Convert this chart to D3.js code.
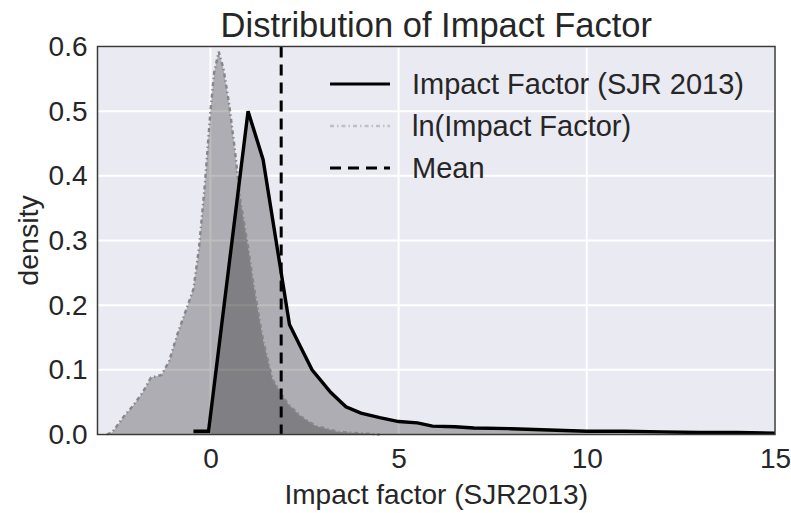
<!DOCTYPE html>
<html><head><meta charset="utf-8">
<script src="https://cdn.jsdelivr.net/npm/d3@7"></script>
<style>body{margin:0;background:#fff;} text{font-family:"Liberation Sans",Arial,sans-serif;}</style>
</head><body><svg id="c" width="791" height="513"></svg>
<script>
// Impact Factor (SJR 2013) density
const ifX = [-0.45, -0.05, 1.0, 1.4, 2.1, 2.4, 2.7, 3.2, 3.6, 4.0, 4.5, 5.0, 5.5, 5.9, 6.5, 7, 8, 9, 10, 11, 12, 13, 14, 15];
const ifY = [0.005, 0.005, 0.5, 0.425, 0.17, 0.135, 0.1, 0.065, 0.043, 0.033, 0.026, 0.02, 0.018, 0.013, 0.012, 0.01, 0.009, 0.007, 0.005, 0.005, 0.004, 0.003, 0.003, 0.002];
// ln(Impact Factor) density
const lnX = [-2.75, -2.6, -2.3, -2.05, -1.8, -1.58, -1.3, -1.1, -0.85, -0.6, -0.45, -0.3, -0.15, 0.0, 0.1, 0.22, 0.35, 0.5, 0.65, 0.8, 1.0, 1.15, 1.4, 1.65, 1.9, 2.05, 2.4, 2.8, 3.4, 4.1, 4.5];
const lnY = [0.0, 0.004, 0.028, 0.045, 0.065, 0.088, 0.092, 0.113, 0.16, 0.2, 0.225, 0.29, 0.385, 0.5, 0.56, 0.592, 0.565, 0.51, 0.44, 0.36, 0.29, 0.23, 0.145, 0.085, 0.062, 0.048, 0.028, 0.013, 0.004, 0.0015, 0.0];
const meanIF = 1.88;
const xTicks = [0, 5, 10, 15];
const yTicks = [0.0, 0.1, 0.2, 0.3, 0.4, 0.5, 0.6];
const legendLabels = ["Impact Factor (SJR 2013)", "ln(Impact Factor)", "Mean"];

const svg = d3.select("#c");
const L = 97.5, R = 775, T = 46.5, B = 434.5;
const x = d3.scaleLinear().domain([-3, 15]).range([L, R]);
const y = d3.scaleLinear().domain([0, 0.6]).range([B, T]);

svg.append("rect").attr("x", L).attr("y", T).attr("width", R - L).attr("height", B - T).attr("fill", "#eaeaf2");

// grid
svg.append("g").selectAll("line").data(yTicks).join("line")
  .attr("x1", L).attr("x2", R).attr("y1", d => y(d)).attr("y2", d => y(d))
  .attr("stroke", "#fff").attr("stroke-width", 2);
svg.append("g").selectAll("line").data(xTicks).join("line")
  .attr("y1", T).attr("y2", B).attr("x1", d => x(d)).attr("x2", d => x(d))
  .attr("stroke", "#fff").attr("stroke-width", 2);

const lnData = lnX.map((v, i) => [v, lnY[i]]);
const ifData = ifX.map((v, i) => [v, ifY[i]]);
const area = d3.area().x(d => x(d[0])).y0(y(0)).y1(d => y(d[1]));
const line = d3.line().x(d => x(d[0])).y(d => y(d[1]));

svg.append("path").attr("d", area(lnData)).attr("fill", "#000").attr("fill-opacity", 0.26);
svg.append("path").attr("d", area(ifData)).attr("fill", "#000").attr("fill-opacity", 0.26);
svg.append("path").attr("d", line(lnData)).attr("fill", "none").attr("stroke", "#85858a")
  .attr("stroke-width", 2.4).attr("stroke-dasharray", "4,3,1.5,3");
svg.append("path").attr("d", line(ifData)).attr("fill", "none").attr("stroke", "#000")
  .attr("stroke-width", 3.4).attr("stroke-linejoin", "miter");
svg.append("line").attr("x1", x(meanIF)).attr("x2", x(meanIF)).attr("y1", T).attr("y2", B)
  .attr("stroke", "#000").attr("stroke-width", 3).attr("stroke-dasharray", "11,7");

// frame
svg.append("rect").attr("x", L).attr("y", T).attr("width", R - L).attr("height", B - T)
  .attr("fill", "none").attr("stroke", "#3a3a3a").attr("stroke-width", 1.5);

// axes
const xAxis = d3.axisBottom(x).tickValues(xTicks).tickSize(0).tickPadding(14).tickFormat(d3.format("d"));
const gx = svg.append("g").attr("transform", `translate(0,${B})`).call(xAxis);
gx.select(".domain").remove();
gx.selectAll("text").attr("font-size", 28).attr("fill", "#262626").attr("font-family", "Liberation Sans, Arial, sans-serif");
const yAxis = d3.axisLeft(y).tickValues(yTicks).tickSize(0).tickPadding(10).tickFormat(d3.format(".1f"));
const gy = svg.append("g").attr("transform", `translate(${L},0)`).call(yAxis);
gy.select(".domain").remove();
gy.selectAll("text").attr("font-size", 28).attr("fill", "#262626").attr("font-family", "Liberation Sans, Arial, sans-serif");

svg.append("text").attr("x", (L + R) / 2).attr("y", 37).attr("text-anchor", "middle")
  .attr("font-size", 34.5).attr("fill", "#262626").text("Distribution of Impact Factor");
svg.append("text").attr("x", (L + R) / 2).attr("y", 504).attr("text-anchor", "middle")
  .attr("font-size", 28).attr("fill", "#262626").text("Impact factor (SJR2013)");
svg.append("text").attr("transform", `translate(38,${(T + B) / 2}) rotate(-90)`).attr("text-anchor", "middle")
  .attr("font-size", 28.5).attr("fill", "#262626").text("density");

// legend
const lg = svg.append("g");
const rows = [
  {stroke: "#000", w: 3, dash: null},
  {stroke: "#c0c0c0", w: 2.4, dash: "4,3,1.5,3"},
  {stroke: "#000", w: 3, dash: "11,7"}
];
rows.forEach((r, i) => {
  const yy = 84 + i * 42;
  lg.append("line").attr("x1", 330).attr("x2", 390).attr("y1", yy).attr("y2", yy)
    .attr("stroke", r.stroke).attr("stroke-width", r.w).attr("stroke-dasharray", r.dash);
  lg.append("text").attr("x", 412).attr("y", yy + 10).attr("font-size", 29).attr("fill", "#262626").text(legendLabels[i]);
});
</script></body></html>
